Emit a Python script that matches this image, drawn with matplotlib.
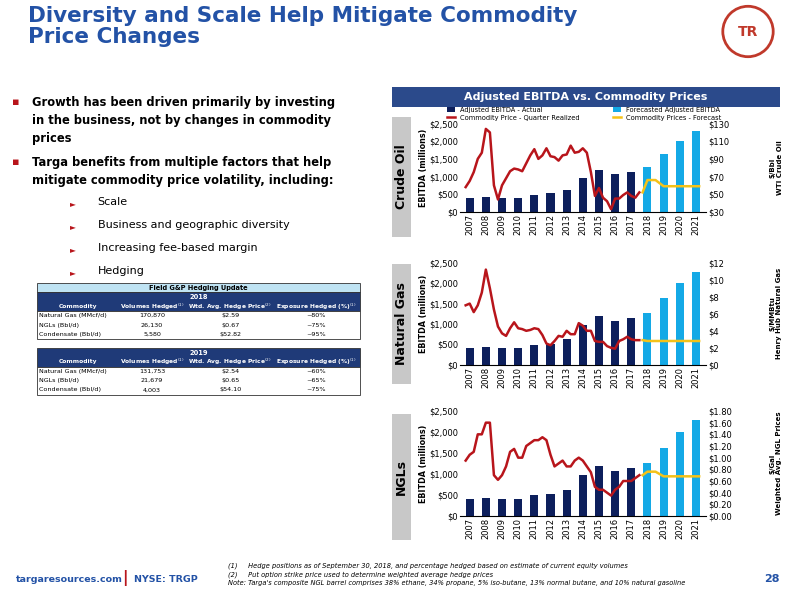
import matplotlib
matplotlib.use("Agg")
import matplotlib.pyplot as plt
from matplotlib.patches import Rectangle, Circle
import numpy as np

years = [str(y) for y in range(2007, 2022)]
ebitda_actual = [400, 430, 400, 400, 490, 520, 630, 970, 1190, 1070, 1140]
ebitda_forecast = [1270, 1630, 2000, 2280]

crude_q = [58,65,75,90, 97,124,120,60, 44,60,68,76, 79,78,76,85, 94,101,90,94,
           102,93,92,88, 94,95,105,97, 98,102,97,75, 48,57,46,42, 33,45,45,49, 52,48,46,52]
crude_fc_x = [10.7, 11.0, 11.5, 12.0, 14.2]
crude_fc = [52, 66, 66, 59, 59]

gas_q = [7,7.2,6.2,7, 8.5,11.2,9,6.5, 4.5,3.7,3.4,4.3, 5,4.3,4.2,4, 4.1,4.3,4.2,3.5,
         2.5,2.3,2.8,3.4, 3.3,4,3.6,3.6, 4.9,4.6,4,4, 2.8,2.7,2.7,2.2, 2,1.9,2.8,3, 3.3,3,2.9,2.9]
gas_fc_x = [10.7, 11.0, 12.0, 14.2]
gas_fc = [2.9, 2.8, 2.8, 2.8]

ngl_q = [0.95,1.05,1.1,1.4, 1.4,1.6,1.6,0.7, 0.62,0.7,0.85,1.1, 1.15,1.0,1.0,1.2,
         1.25,1.3,1.3,1.35, 1.3,1.05,0.85,0.9, 0.95,0.85,0.85,0.95, 1.0,0.95,0.85,0.75,
         0.5,0.45,0.45,0.4, 0.35,0.45,0.5,0.6, 0.6,0.6,0.65,0.7]
ngl_fc_x = [10.7, 11.0, 11.5, 12.0, 14.2]
ngl_fc = [0.7, 0.76, 0.76, 0.68, 0.68]

NAVY = "#0D1F5C"
LBLUE = "#14A9E6"
RED = "#B8151B"
YEL = "#F5C218"
HDR = "#2B4A8B"

fig = plt.figure(figsize=(8, 6), dpi=100)
fig.patch.set_facecolor("white")

fig.text(0.035, 0.99, "Diversity and Scale Help Mitigate Commodity\nPrice Changes", color="#2352A6",
         fontsize=15.5, fontweight="bold", va="top", ha="left", linespacing=1.05)
lax = fig.add_axes([0.9, 0.9, 0.07, 0.095]); lax.set_aspect("equal"); lax.axis("off")
lax.add_patch(Circle((0.5, 0.5), 0.45, fc="white", ec="#C0392B", lw=2))
lax.text(0.5, 0.5, "TR", color="#C0392B", fontsize=10, ha="center", va="center", fontweight="bold")
lax.set_xlim(0, 1); lax.set_ylim(0, 1)

fig.text(0.015, 0.838, "▪", color=RED, fontsize=8, va="top")
fig.text(0.04, 0.84, "Growth has been driven primarily by investing\nin the business, not by changes in commodity\nprices",
         fontsize=8.3, fontweight="bold", va="top", linespacing=1.5)
fig.text(0.015, 0.738, "▪", color=RED, fontsize=8, va="top")
fig.text(0.04, 0.74, "Targa benefits from multiple factors that help\nmitigate commodity price volatility, including:",
         fontsize=8.3, fontweight="bold", va="top", linespacing=1.5)
for i, t in enumerate(["Scale", "Business and geographic diversity", "Increasing fee-based margin", "Hedging"]):
    y = 0.668 - i * 0.038
    fig.text(0.088, y, "►", color=RED, fontsize=5.5, va="top")
    fig.text(0.122, y + 0.003, t, fontsize=8, va="top")

def table(ytop, year, rows, header_top=False):
    x0, x1 = 0.046, 0.45
    ax = fig.add_axes([0, 0, 1, 1], facecolor="none"); ax.axis("off")
    ax.set_xlim(0, 1); ax.set_ylim(0, 1)
    h = 0.0155
    y = ytop
    if header_top:
        ax.add_patch(Rectangle((x0, y - h), x1 - x0, h, fc="#BFE3F3", ec="#333333", lw=0.6))
        ax.text((x0 + x1) / 2, y - h / 2, "Field G&P Hedging Update", fontsize=4.8, fontweight="bold", ha="center", va="center")
        y -= h
    ax.add_patch(Rectangle((x0, y - 2 * h), x1 - x0, 2 * h, fc="#1F3A78", ec="#333333", lw=0.6))
    ax.text((x0 + x1) / 2, y - h / 2, year, fontsize=4.8, color="white", fontweight="bold", ha="center", va="center")
    cols = [0.098, 0.19, 0.288, 0.395]
    hdrs = ["Commodity", "Volumes Hedged$^{(1)}$", "Wtd. Avg. Hedge Price$^{(2)}$", "Exposure Hedged (%)$^{(1)}$"]
    for c, t in zip(cols, hdrs):
        ax.text(c, y - 1.5 * h, t, fontsize=4.3, color="white", fontweight="bold", ha="center", va="center")
    y -= 2 * h
    ax.add_patch(Rectangle((x0, y - 3 * h), x1 - x0, 3 * h, fc="white", ec="#333333", lw=0.6))
    for r in rows:
        ax.text(x0 + 0.003, y - h / 2, r[0], fontsize=4.6, va="center")
        for c, t in zip(cols[1:], r[1:]):
            ax.text(c, y - h / 2, t, fontsize=4.6, ha="center", va="center")
        y -= h

table(0.528, "2018", [["Natural Gas (MMcf/d)", "170,870", "$2.59", "~80%"],
                      ["NGLs (Bbl/d)", "26,130", "$0.67", "~75%"],
                      ["Condensate (Bbl/d)", "5,580", "$52.82", "~95%"]], True)
table(0.42, "2019", [["Natural Gas (MMcf/d)", "131,753", "$2.54", "~60%"],
                     ["NGLs (Bbl/d)", "21,679", "$0.65", "~65%"],
                     ["Condensate (Bbl/d)", "4,003", "$54.10", "~75%"]])

fig.patches.append(Rectangle((0.49, 0.822), 0.485, 0.033, transform=fig.transFigure, fc=HDR, ec="none"))
fig.text(0.7325, 0.838, "Adjusted EBITDA vs. Commodity Prices", color="white", fontsize=8,
         fontweight="bold", ha="center", va="center")

x = np.arange(len(years))
na = len(ebitda_actual)

def panel(rect, label, q, fcx, fc, ylim, yticks, fmt, rlabel, boxrect):
    ax = fig.add_axes(rect)
    ax.bar(x[:na], ebitda_actual, width=0.5, color=NAVY, label="Adjusted EBITDA - Actual")
    ax.bar(x[na:], ebitda_forecast, width=0.5, color=LBLUE, label="Forecasted Adjusted EBITDA")
    ax.set_ylim(0, 2500)
    ax.set_yticks([0, 500, 1000, 1500, 2000, 2500])
    ax.set_yticklabels(["$0", "$500", "$1,000", "$1,500", "$2,000", "$2,500"], fontsize=6)
    ax.set_xticks(x); ax.set_xticklabels(years, rotation=90, fontsize=6)
    ax.set_xlim(-0.6, len(years) - 0.4)
    ax.set_ylabel("EBITDA (millions)", fontsize=5.8, fontweight="bold", labelpad=1)
    for s in ["top", "right", "left"]:
        ax.spines[s].set_visible(False)
    ax.tick_params(length=0, pad=1.5)
    ax2 = ax.twinx()
    qx = -0.25 + np.arange(len(q)) * 0.25
    ax2.plot(qx, q, color=RED, lw=1.8, label="Commodity Price - Quarter Realized")
    ax2.plot(fcx, fc, color=YEL, lw=1.8, label="Commodity Prices - Forecast")
    ax2.set_ylim(*ylim); ax2.set_yticks(yticks)
    ax2.set_yticklabels([fmt(v) for v in yticks], fontsize=6)
    for s in ["top", "right", "left", "bottom"]:
        ax2.spines[s].set_visible(False)
    ax2.tick_params(length=0, pad=2)
    fig.text(0.97, rect[1] + rect[3] / 2, rlabel, rotation=90, fontsize=5,
             fontweight="bold", ha="center", va="center", linespacing=1.2)
    fig.patches.append(Rectangle(boxrect[:2], boxrect[2], boxrect[3], transform=fig.transFigure, fc="#C8C8C8", ec="none"))
    fig.text(boxrect[0] + boxrect[2] / 2, boxrect[1] + boxrect[3] / 2, label, rotation=90, fontsize=9,
             fontweight="bold", ha="center", va="center")
    return ax, ax2

L, W = 0.575, 0.307
a1, a1b = panel([L, 0.647, W, 0.147], "Crude Oil", crude_q, crude_fc_x, crude_fc, (30, 130),
                [30, 50, 70, 90, 110, 130], lambda v: f"${v}", "$/Bbl\nWTI Crude Oil", (0.49, 0.605, 0.024, 0.2))
panel([L, 0.392, W, 0.17], "Natural Gas", gas_q, gas_fc_x, gas_fc, (0, 12),
      [0, 2, 4, 6, 8, 10, 12], lambda v: f"${v}", "$/MMBtu\nHenry Hub Natural Gas", (0.49, 0.36, 0.024, 0.2))
panel([L, 0.14, W, 0.175], "NGLs", ngl_q, ngl_fc_x, ngl_fc, (0, 1.8),
      [0, .2, .4, .6, .8, 1.0, 1.2, 1.4, 1.6, 1.8], lambda v: f"${v:.2f}", "$/Gal\nWeighted Avg. NGL Prices",
      (0.49, 0.1, 0.024, 0.21))

h1, l1 = a1.get_legend_handles_labels(); h2, l2 = a1b.get_legend_handles_labels()
fig.legend([h1[0], h2[0], h1[1], h2[1]], [l1[0], l2[0], l1[1], l2[1]], loc="center",
           bbox_to_anchor=(0.73, 0.81), ncol=2, fontsize=4.8, frameon=False, handlelength=1.2,
           columnspacing=5, labelspacing=0.25, borderpad=0)

fig.text(0.02, 0.035, "targaresources.com", color="#2352A6", fontsize=6.8, fontweight="bold", va="center")
fig.text(0.153, 0.036, "|", color=RED, fontsize=11, fontweight="bold", va="center")
fig.text(0.168, 0.035, "NYSE: TRGP", color="#2352A6", fontsize=6.8, fontweight="bold", va="center")
fig.text(0.285, 0.062, "(1)     Hedge positions as of September 30, 2018, and percentage hedged based on estimate of current equity volumes\n"
         "(2)     Put option strike price used to determine weighted average hedge prices\n"
         "Note: Targa's composite NGL barrel comprises 38% ethane, 34% propane, 5% iso-butane, 13% normal butane, and 10% natural gasoline",
         fontsize=4.8, style="italic", va="top", linespacing=1.4)
fig.text(0.975, 0.035, "28", color="#2352A6", fontsize=8, fontweight="bold", ha="right", va="center")

fig.savefig("out.png", dpi=100)
